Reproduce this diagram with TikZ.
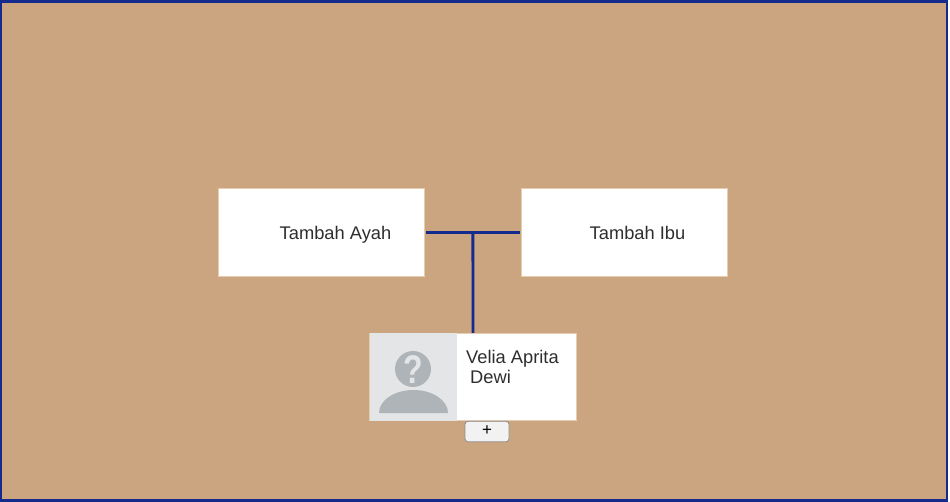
\documentclass[tikz,border=0pt]{standalone}
\usepackage{fontspec}
\setmainfont{Liberation Sans}
\usetikzlibrary{positioning,calc}
\definecolor{latar}{HTML}{CBA480}
\definecolor{garis}{HTML}{142A8C}
\definecolor{tepi}{HTML}{E6CDB2}
\definecolor{fotobg}{HTML}{E3E5E7}
\definecolor{siluet}{HTML}{AEB4B8}
\tikzset{
    kotak/.style={draw=tepi, line width=0.7pt, fill=white, minimum width=206.5pt, minimum height=87.5pt, inner sep=0pt},
    teks/.style={text=black!82, font=\fontsize{18.3}{20}\selectfont, inner sep=0pt, anchor=base west},
    konektor/.style={draw=garis, line width=2.8pt},
}
\begin{document}
\begin{tikzpicture}[x=1pt, y=-1pt]
    \useasboundingbox (0,0) rectangle (950,502);
    \fill[white] (0,0) rectangle (950,502);
    \draw[draw=garis, fill=latar, line width=2.6pt] (1,1.5) rectangle (947,500.5);

    % kotak orang tua
    \node[kotak] (ayah) at (321.2,232.5) {};
    \node[kotak] (ibu) at (624.5,232.5) {};
    \node[teks] (teksayah) at (279.5,239.5) {Tambah Ayah};
    \node[teks] (teksibu) at (589.5,239.5) {Tambah Ibu};

    % kotak anak
    \node[kotak] (velia) at (473,377) {};
    \node[fill=fotobg, minimum width=87pt, minimum height=87pt, inner sep=0pt] (foto) at (413.5,377) {};
    \fill[siluet] (413,369) circle (18);
    \fill[siluet] (379,413) arc[start angle=180, end angle=360, x radius=34.5, y radius=23] -- cycle;
    \node[text=fotobg, font=\bfseries\fontsize{40}{42}\selectfont, inner sep=0pt, xscale=0.8] (tanya) at (413,370) {?};
    \node[teks] (teksvelia) at (466,363) {Velia Aprita};
    \node[teks] (teksdewi) at (470,383.5) {Dewi};

    % tombol
    \node[draw=black!45, fill=black!5, rounded corners=3pt, minimum width=44pt, minimum height=20.5pt, inner sep=0pt, line width=0.8pt] (tombol) at (487,431.5) {};
    \node[text=black, font=\fontsize{17}{19}\selectfont, inner sep=0pt] (plus) at (487,431) {+};

    % garis penghubung
    \coordinate (tengah) at ($(ayah.east)!0.5!(ibu.west)$);
    \draw[konektor, shorten <=1.5pt, shorten >=1pt] (ayah.east) -- (ibu.west);
    \draw[konektor] (tengah) -- (velia.north);
\end{tikzpicture}
\end{document}
